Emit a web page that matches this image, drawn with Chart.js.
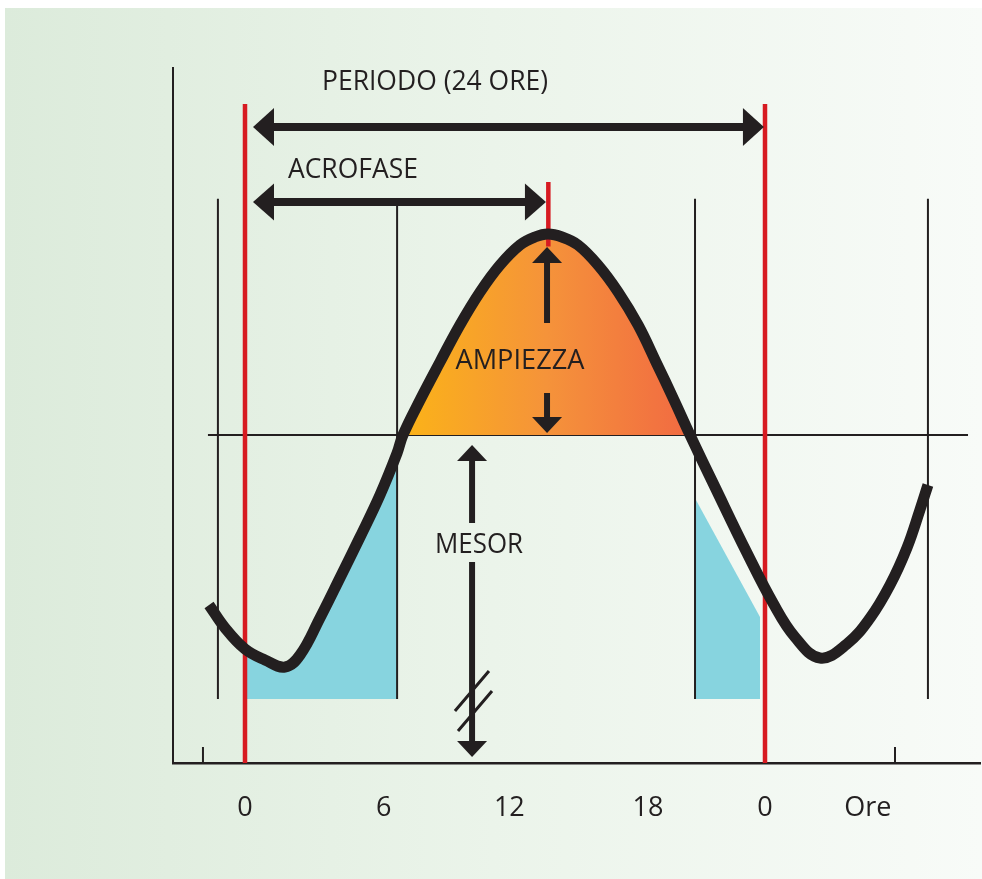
<!DOCTYPE html>
<html><head><meta charset="utf-8">
<script src="https://cdn.jsdelivr.net/npm/chart.js@4.4.1/dist/chart.umd.min.js"></script>
<style>html,body{margin:0;padding:0;background:#fff;overflow:hidden}canvas{display:block}</style>
</head><body>
<canvas id="c" width="982" height="879"></canvas>
<script>
// ---------- values (x = hours, y = arbitrary units, mesor = 100) ----------
const curveHours  = [-1.66, -0.92, 0, 0.92, 1.85, 2.54, 3.46, 4.38, 5.31, 6.23, 7.02, 7.29, 8.08, 9.00, 9.92, 10.85, 11.77, 12.69, 13.38, 13.98, 14.63, 15.37, 16.29, 17.22, 18.14, 18.97, 19.80, 20.54, 21.69, 23.17, 24.37, 25.38, 26.54, 27.78, 28.85, 29.77, 30.55, 31.15, 31.52];
const curveValues = [58.54, 52.93, 47.80, 45.12, 43.41, 46.34, 55.37, 65.12, 75.12, 85.37, 95.61, 100, 108.54, 117.80, 126.83, 134.88, 141.46, 146.34, 148.29, 149.02, 148.29, 146.34, 141.46, 134.88, 126.83, 117.80, 108.54, 100, 87.32, 71.22, 59.02, 50.73, 45.61, 49.02, 55.37, 63.41, 72.44, 81.71, 87.80];
const mesorValue = 100;
const acrophaseHour = 14;
const periodStartHour = 0;
const periodEndHour = 24;
const guideHours = [-1.25, 7.02, 20.77, 31.52];
const guideTopValue = 157.6;
const shadeBaseValue = 35.6;
const shadeRightHours = [20.77, 23.77];
const shadeRightValues = [84.6, 55.6];
const minorTickHours = [-1.94, 30];
const tickPositions = [0, 6.4, 12.2, 18.6, 24, 28.75];
const tickLabels = ['0', '6', '12', '18', '0', 'Ore'];
const xRange = [-3.323, 33.923];
const yRange = [20, 189.51];

// annotation anchors (data units)
const labelTexts = ['PERIODO (24 ORE)', 'ACROFASE', 'AMPIEZZA', 'MESOR'];
const labelHours = [8.77, 4.98, 12.69, 10.80];
const labelValues = [186.59, 165.12, 118.54, 73.66];
const labelWidths = [226, 130, 129, 88];

const INK = '#231f20';
const RED = '#d71a21';
const BLUE = '#87d4df';
const TENSION = 0.4;

const pts = (xs, ys) => xs.map((x, i) => ({x, y: ys[i]}));
const curve = pts(curveHours, curveValues);
const orangePts = curve.filter(p => p.y >= mesorValue);
const blueLeftPts = curve.filter(p => p.x >= periodStartHour && p.x <= guideHours[1]);

const vline = (h, top, bottom, color, width, order) => ({
  data: [{x: h, y: top}, {x: h, y: bottom}], borderColor: color, borderWidth: width,
  pointRadius: 0, fill: false, tension: 0, order, borderCapStyle: 'butt'
});

const datasets = [
  {data: [{x: -1.71, y: mesorValue}, {x: 33.37, y: mesorValue}], borderColor: INK, borderWidth: 2, pointRadius: 0, fill: false, tension: 0, order: 20},
  {data: blueLeftPts, borderWidth: 0, borderColor: 'rgba(0,0,0,0)', backgroundColor: BLUE, pointRadius: 0, fill: {value: shadeBaseValue}, tension: TENSION, order: 15},
  {data: pts(shadeRightHours, shadeRightValues), borderWidth: 0, borderColor: 'rgba(0,0,0,0)', backgroundColor: BLUE, pointRadius: 0, fill: {value: shadeBaseValue}, tension: 0, order: 15},
  {data: orangePts, borderWidth: 0, borderColor: 'rgba(0,0,0,0)', pointRadius: 0, fill: {value: mesorValue}, tension: TENSION, order: 14,
   backgroundColor: (c) => {
     const ch = c.chart; if (!ch.chartArea) return '#f59a30';
     const x0 = ch.scales.x.getPixelForValue(orangePts[0].x);
     const x1 = ch.scales.x.getPixelForValue(orangePts[orangePts.length - 1].x);
     const g = ch.ctx.createLinearGradient(x0, 0, x1, 0);
     g.addColorStop(0, '#fbb318'); g.addColorStop(0.5, '#f5933a'); g.addColorStop(1, '#f16a42');
     return g;
   }},
  ...guideHours.map((h, i) => vline(h, i === 1 ? 156.8 : guideTopValue, shadeBaseValue, INK, 2, 10)),
  ...minorTickHours.map(h => vline(h, yRange[0], 23.9, INK, 2, 10)),
  vline(periodStartHour, 180.7, yRange[0], RED, 4.5, 8),
  vline(periodEndHour, 180.7, yRange[0], RED, 4.5, 8),
  vline(acrophaseHour, 161.7, 146, RED, 4.5, 8),
  {data: curve, borderColor: INK, borderWidth: 11, pointRadius: 0, fill: false, tension: TENSION, borderCapStyle: 'butt', borderJoinStyle: 'round', order: 1}
];

function head(ctx, tx, ty, dx, dy, len, half) {
  const nx = -dy, ny = dx;
  const bx = tx - dx * len, by = ty - dy * len;
  ctx.beginPath();
  ctx.moveTo(tx, ty);
  ctx.lineTo(bx + nx * half, by + ny * half);
  ctx.lineTo(bx - nx * half, by - ny * half);
  ctx.closePath();
  ctx.fill();
}
function arrow(ctx, x1, y1, x2, y2, w, len, half, both) {
  const L = Math.hypot(x2 - x1, y2 - y1), dx = (x2 - x1) / L, dy = (y2 - y1) / L;
  ctx.lineWidth = w; ctx.lineCap = 'butt';
  ctx.beginPath();
  ctx.moveTo(both ? x1 + dx * (len - 1) : x1, both ? y1 + dy * (len - 1) : y1);
  ctx.lineTo(x2 - dx * (len - 1), y2 - dy * (len - 1));
  ctx.stroke();
  head(ctx, x2, y2, dx, dy, len, half);
  if (both) head(ctx, x1, y1, -dx, -dy, len, half);
}

const decor = {
  id: 'decor',
  beforeDraw(chart) {
    const c = chart.ctx;
    c.save();
    c.fillStyle = '#ffffff'; c.fillRect(0, 0, chart.width, chart.height);
    const g = c.createLinearGradient(5, 0, chart.width, 0);
    g.addColorStop(0, '#dcebdb'); g.addColorStop(0.5, '#ebf4ea'); g.addColorStop(1, '#f8fbf8');
    c.fillStyle = g; c.fillRect(5, 8, chart.width - 5, chart.height - 8);
    c.restore();
  },
  afterDatasetsDraw(chart) {
    const c = chart.ctx, X = v => chart.scales.x.getPixelForValue(v), Y = v => chart.scales.y.getPixelForValue(v);
    c.save();
    c.fillStyle = INK; c.strokeStyle = INK;
    // period & acrophase arrows
    arrow(c, X(0.37), Y(175.12), X(23.95), Y(175.12), 8, 21, 19, true);
    arrow(c, X(0.37), Y(156.83), X(13.89), Y(156.83), 8, 21, 18.5, true);
    // amplitude arrows
    arrow(c, X(13.94), Y(127.32), X(13.94), Y(145.85), 6, 16, 15, false);
    arrow(c, X(13.94), Y(110.24), X(13.94), Y(100.49), 6, 16, 15, false);
    // mesor arrows
    arrow(c, X(10.48), Y(78.54), X(10.48), Y(97.56), 6, 16, 15, false);
    arrow(c, X(10.48), Y(69.02), X(10.48), Y(21.46), 6, 16, 15, false);
    // axis break marks
    c.lineWidth = 3;
    c.beginPath();
    c.moveTo(X(9.69), Y(32.68)); c.lineTo(X(11.26), Y(42.44));
    c.moveTo(X(9.83), Y(27.8)); c.lineTo(X(11.40), Y(37.56));
    c.stroke();
    // labels
    c.font = '27px "Open Sans"';
    c.textAlign = 'center'; c.textBaseline = 'alphabetic';
    labelTexts.forEach((t, i) => {
      const w = c.measureText(t).width;
      c.save();
      c.translate(X(labelHours[i]), Y(labelValues[i]) + 27 * 0.714 / 2);
      c.scale(labelWidths[i] / w, 1);
      c.fillText(t, 0, 0);
      c.restore();
    });
    c.restore();
  }
};

new Chart(document.getElementById('c'), {
  type: 'line',
  data: {datasets},
  plugins: [decor],
  options: {
    responsive: false, animation: false, devicePixelRatio: 1,
    layout: {padding: {top: 68, right: 2, left: 0, bottom: 0}},
    plugins: {legend: {display: false}, tooltip: {enabled: false}, filler: {propagate: false}},
    elements: {point: {radius: 0}},
    scales: {
      x: {
        type: 'linear', min: xRange[0], max: xRange[1], position: 'bottom',
        grid: {display: false, drawTicks: false},
        border: {display: true, color: INK, width: 2.5},
        afterBuildTicks: s => { s.ticks = tickPositions.map(v => ({value: v})); },
        afterFit: s => { s.height = 116; },
        ticks: {autoSkip: false, maxRotation: 0, padding: 29, color: INK,
          font: {family: '"Open Sans"', size: 27},
          callback: (v, i) => tickLabels[i]}
      },
      y: {
        type: 'linear', min: yRange[0], max: yRange[1],
        grid: {display: false, drawTicks: false},
        border: {display: true, color: INK, width: 2},
        ticks: {display: false},
        afterFit: s => { s.width = 173; }
      }
    }
  }
});
</script>
</body></html>
